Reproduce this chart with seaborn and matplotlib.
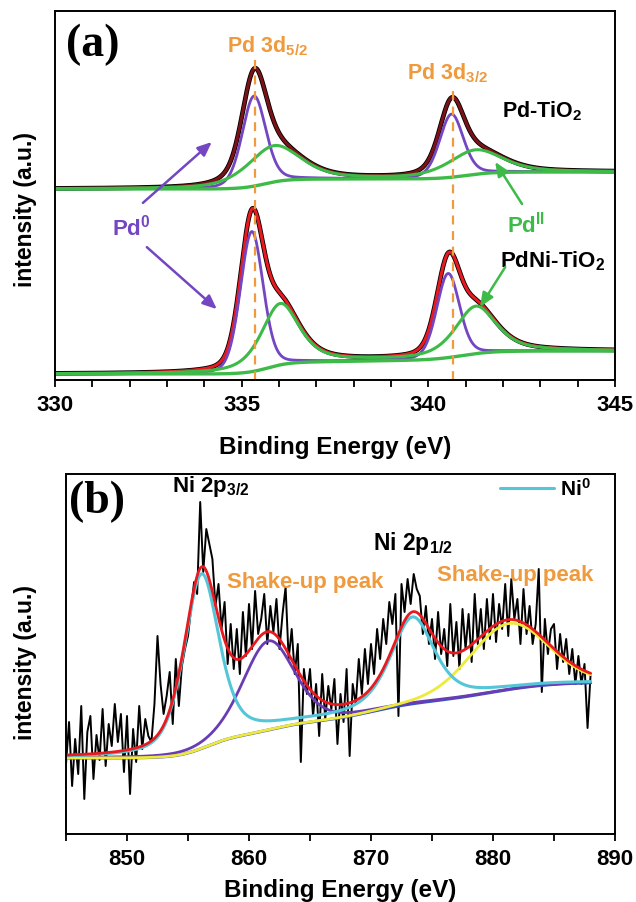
import numpy as np
import matplotlib
matplotlib.use("Agg")
import matplotlib.pyplot as plt
import seaborn as sns
from matplotlib.ticker import MultipleLocator

# ---------------- panel (a): Pd 3d fit parameters ----------------
# Pd-TiO2 (upper spectrum)
pdti_bg_base = 191.0
pdti_bg_c = [335.6, 341.0]
pdti_bg_h = [10.0, 7.0]
pdti_bg_w = [0.30, 0.35]
pdti_pd0_c = [335.33, 340.62]
pdti_pd0_h = [90.0, 63.0]
pdti_pd0_fwhm = [0.75, 0.75]
pdti_pd0_eta = [0.25, 0.25]
pdti_pd2_c = [335.85, 341.25]
pdti_pd2_h = [36.0, 24.0]
pdti_pd2_fwhm = [1.7, 1.7]
pdti_pd2_eta = [0.5, 0.5]

# PdNi-TiO2 (lower spectrum)
pdni_bg_base = 6.0
pdni_bg_c = [335.7, 338.5, 340.9]
pdni_bg_h = [12.0, 2.0, 9.0]
pdni_bg_w = [0.30, 0.80, 0.40]
pdni_pd0_c = [335.27, 340.53]
pdni_pd0_h = [140.0, 84.0]
pdni_pd0_fwhm = [0.72, 0.72]
pdni_pd0_eta = [0.2, 0.2]
pdni_pd2_c = [336.03, 341.27]
pdni_pd2_h = [61.0, 47.0]
pdni_pd2_fwhm = [1.2, 1.3]
pdni_pd2_eta = [0.6, 0.6]

pd_ref_lines = [335.36, 340.66]

# ---------------- panel (b): Ni 2p ----------------
ni_bg_base = 76.0
ni_bg_c = [856.5, 862.0, 870.0, 880.0]
ni_bg_h = [22.0, 14.0, 20.0, 20.0]
ni_bg_w = [1.2, 1.5, 2.0, 2.5]
ni0_c = [856.1, 873.4]
ni0_h = [174.0, 86.0]
ni0_fwhm = [3.4, 4.2]
ni0_eta = [0.5, 0.55]
sat_c = [861.6, 881.3]
sat_h = [89.0, 66.0]
sat_fwhm = [5.0, 7.5]
sat_eta = [0.3, 0.1]

ni_raw_start = 845.0
ni_raw_step = 0.25
ni_raw = [
    70, 112, 48, 95, 60, 128, 35, 102, 118, 55, 99, 74, 125, 68, 110, 88,
    130, 92, 120, 62, 118, 40, 105, 72, 128, 85, 115, 98, 92, 130, 198, 150,
    120, 138, 162, 110, 175, 128, 168, 185, 198, 225, 252, 240, 332, 262, 305, 290,
    275, 228, 250, 205, 232, 170, 210, 165, 205, 160, 222, 178, 230, 185, 243, 200,
    215, 240, 190, 228, 202, 235, 185, 220, 247, 175, 205, 160, 190, 72, 165, 140,
    165, 118, 150, 98, 160, 115, 148, 125, 155, 90, 140, 112, 165, 78, 150, 130,
    175, 140, 185, 150, 190, 160, 205, 175, 215, 190, 232, 210, 240, 118, 250, 222,
    255, 230, 260, 245, 238, 200, 228, 190, 215, 175, 222, 180, 205, 168, 230, 178,
    212, 165, 225, 185, 220, 172, 240, 190, 225, 185, 235, 195, 240, 192, 230, 205,
    250, 198, 255, 215, 235, 190, 245, 200, 228, 190, 210, 265, 142, 215, 180, 205,
    210, 165, 200, 172, 195, 160, 185, 150, 178, 150, 170, 106, 160,
]


def pvoigt(x, cs, hs, fwhms, etas):
    out = np.zeros_like(x)
    for c, h, f, e in zip(cs, hs, fwhms, etas):
        u = ((x - c) / f) ** 2
        out += h * (e / (1 + 4 * u) + (1 - e) * np.exp(-4 * np.log(2) * u))
    return out


def step_bg(x, base, cs, hs, ws):
    out = np.full_like(x, base)
    for c, h, w in zip(cs, hs, ws):
        out += h / (1 + np.exp(-(x - c) / w))
    return out


sns.set_theme(style="ticks")
plt.rcParams["font.family"] = ["Liberation Sans", "DejaVu Sans"]
plt.rcParams["font.weight"] = "bold"
plt.rcParams["axes.labelweight"] = "bold"
plt.rcParams["text.color"] = "black"
plt.rcParams["axes.labelcolor"] = "black"
plt.rcParams["xtick.color"] = "black"
plt.rcParams["ytick.color"] = "black"
plt.rcParams["mathtext.fontset"] = "custom"
plt.rcParams["mathtext.rm"] = "Liberation Sans:bold"
plt.rcParams["mathtext.bf"] = "Liberation Sans:bold"
plt.rcParams["mathtext.it"] = "Liberation Sans:bold"

W, H = 636, 903
fig = plt.figure(figsize=(W / 100, H / 100), dpi=100)
fig.patch.set_facecolor("white")


def px_axes(l, t, r, b):
    return fig.add_axes([l / W, (H - b) / H, (r - l) / W, (b - t) / H])


ax_a = px_axes(55, 12, 615, 381)
ax_b = px_axes(66, 475, 615, 835)

C_PURPLE = "#7446c2"
C_GREEN = "#3dba48"
C_ORANGE = "#ef9a3c"
C_DRED = "#7a1218"
C_RED = "#e8191f"
C_CYAN = "#55c6d8"
C_YELLOW = "#eeea3a"
C_VIOLET = "#6a3cb4"
C_BLUE = "#3a52c6"


def line(ax, x, y, color, lw, **kw):
    sns.lineplot(x=x, y=y, ax=ax, color=color, lw=lw, sort=False,
                 estimator=None, legend=False, **kw)


# ---------------- panel (a) ----------------
xa = np.arange(330.0, 345.0001, 0.01)
specs = [
    (pdti_bg_base, pdti_bg_c, pdti_bg_h, pdti_bg_w, pdti_pd0_c, pdti_pd0_h, pdti_pd0_fwhm,
     pdti_pd0_eta, pdti_pd2_c, pdti_pd2_h, pdti_pd2_fwhm, pdti_pd2_eta, C_DRED),
    (pdni_bg_base, pdni_bg_c, pdni_bg_h, pdni_bg_w, pdni_pd0_c, pdni_pd0_h, pdni_pd0_fwhm,
     pdni_pd0_eta, pdni_pd2_c, pdni_pd2_h, pdni_pd2_fwhm, pdni_pd2_eta, C_RED),
]
for (bb, bc, bh, bw, c0, h0, f0, e0, c2, h2, f2, e2, env_col) in specs:
    bg = step_bg(xa, bb, bc, bh, bw)
    p0 = pvoigt(xa, c0, h0, f0, e0)
    p2 = pvoigt(xa, c2, h2, f2, e2)
    env = bg + p0 + p2
    line(ax_a, xa, env, "black", 3.4)
    line(ax_a, xa, env, env_col, 2.2)
    line(ax_a, xa, bg + p0, C_PURPLE, 2.0)
    line(ax_a, xa, bg + p2, C_GREEN, 2.2)
    line(ax_a, xa, bg, C_GREEN, 2.4)

ax_a.vlines(pd_ref_lines, 0, [321, 293], colors=C_ORANGE, linestyles=(0, (4, 3)), lw=1.6)
ax_a.set_xlim(330, 345)
ax_a.set_ylim(0, 369)
ax_a.xaxis.set_major_locator(MultipleLocator(5))
ax_a.xaxis.set_minor_locator(MultipleLocator(1))

# texts (a)
ax_a.text(0.019, 0.911, "(a)", transform=ax_a.transAxes, fontsize=33, fontweight="bold",
          family="Liberation Serif", va="center", ha="left")
ax_a.text(0.307, 0.908, r"Pd 3d$_{5/2}$", transform=ax_a.transAxes, fontsize=15.5,
          color=C_ORANGE, va="center", ha="left")
ax_a.text(0.629, 0.835, r"Pd 3d$_{3/2}$", transform=ax_a.transAxes, fontsize=15.5,
          color=C_ORANGE, va="center", ha="left")
ax_a.text(0.798, 0.732, r"Pd-TiO$_2$", transform=ax_a.transAxes, fontsize=15.5,
          color="black", va="center", ha="left")
ax_a.text(0.795, 0.325, r"PdNi-TiO$_2$", transform=ax_a.transAxes, fontsize=16,
          color="black", va="center", ha="left")
ax_a.text(0.136, 0.415, r"Pd$^{0}$", transform=ax_a.transAxes, fontsize=16,
          color=C_PURPLE, va="center", ha="center")
ax_a.text(0.841, 0.423, r"Pd$^{II}$", transform=ax_a.transAxes, fontsize=16,
          color=C_GREEN, va="center", ha="center")

arrow_kw = dict(arrowstyle="-|>,head_length=0.7,head_width=0.3", lw=1.8, shrinkA=0, shrinkB=0)
for (t, h) in [((0.157, 0.480), (0.280, 0.645)), ((0.164, 0.360), (0.289, 0.192))]:
    ax_a.annotate("", xy=h, xytext=t, xycoords="axes fraction", textcoords="axes fraction",
                  arrowprops=dict(color=C_PURPLE, **arrow_kw))
for (t, h) in [((0.834, 0.477), (0.786, 0.591)), ((0.804, 0.306), (0.759, 0.198))]:
    ax_a.annotate("", xy=h, xytext=t, xycoords="axes fraction", textcoords="axes fraction",
                  arrowprops=dict(color=C_GREEN, **arrow_kw))

# ---------------- panel (b) ----------------
xb = np.arange(845.0, 888.0001, 0.02)
bgb = step_bg(xb, ni_bg_base, ni_bg_c, ni_bg_h, ni_bg_w)
pni0 = pvoigt(xb, ni0_c, ni0_h, ni0_fwhm, ni0_eta)
psat1 = pvoigt(xb, sat_c[:1], sat_h[:1], sat_fwhm[:1], sat_eta[:1])
psat2 = pvoigt(xb, sat_c[1:], sat_h[1:], sat_fwhm[1:], sat_eta[1:])
envb = bgb + pni0 + psat1 + psat2
x_raw = ni_raw_start + ni_raw_step * np.arange(len(ni_raw))

line(ax_b, x_raw, np.array(ni_raw, float), "black", 1.4)
line(ax_b, xb, bgb, C_BLUE, 2.2)
line(ax_b, xb, bgb + psat1, C_VIOLET, 2.0)
line(ax_b, xb, bgb + psat2, C_YELLOW, 2.0)
line(ax_b, xb, bgb + pni0, C_CYAN, 2.2, label=r"Ni$^{0}$")
line(ax_b, xb, envb, C_RED, 2.0)

ax_b.set_xlim(845, 890)
ax_b.set_ylim(0, 360)
ax_b.xaxis.set_major_locator(MultipleLocator(10))
ax_b.xaxis.set_minor_locator(MultipleLocator(5))

ax_b.text(0.005, 0.925, "(b)", transform=ax_b.transAxes, fontsize=33, fontweight="bold",
          family="Liberation Serif", va="center", ha="left")
ax_b.text(0.193, 0.967, r"Ni 2p$_{3/2}$", transform=ax_b.transAxes, fontsize=16,
          color="black", va="center", ha="left")
ax_b.text(0.559, 0.811, r"Ni 2p$_{1/2}$", transform=ax_b.transAxes, fontsize=16.5,
          color="black", va="center", ha="left")
ax_b.text(0.293, 0.700, "Shake-up peak", transform=ax_b.transAxes, fontsize=16,
          color=C_ORANGE, va="center", ha="left")
ax_b.text(0.676, 0.722, "Shake-up peak", transform=ax_b.transAxes, fontsize=16,
          color=C_ORANGE, va="center", ha="left")

cyan_handle = [l for l in ax_b.lines if l.get_label() == r"Ni$^{0}$"]
ax_b.legend(handles=cyan_handle, loc="center right", bbox_to_anchor=(0.956, 0.961),
            frameon=False, fontsize=15, handlelength=2.6, handletextpad=0.3,
            borderpad=0, borderaxespad=0)

# ---------------- common axes styling ----------------
for ax, ylab_x, ylab_y, xlab_y in [(ax_a, -0.032, 0.466, -0.150), (ax_b, -0.053, 0.48, -0.122)]:
    ax.set_yticks([])
    for s in ax.spines.values():
        s.set_linewidth(1.4)
        s.set_color("black")
        s.set_visible(True)
    ax.tick_params(axis="x", which="both", direction="out", length=5, width=1.3,
                   labelsize=16, pad=5, colors="black")
    for lab in ax.get_xticklabels():
        lab.set_fontweight("bold")
    ax.set_ylabel("intensity (a.u.)", fontsize=16.5, fontweight="bold")
    ax.set_xlabel("Binding Energy (eV)", fontsize=17.5, fontweight="bold")
    ax.yaxis.set_label_coords(ylab_x, ylab_y)
    ax.xaxis.set_label_coords(0.5, xlab_y)
    ax.set_facecolor("white")

fig.savefig("out.png", dpi=100, facecolor="white")
